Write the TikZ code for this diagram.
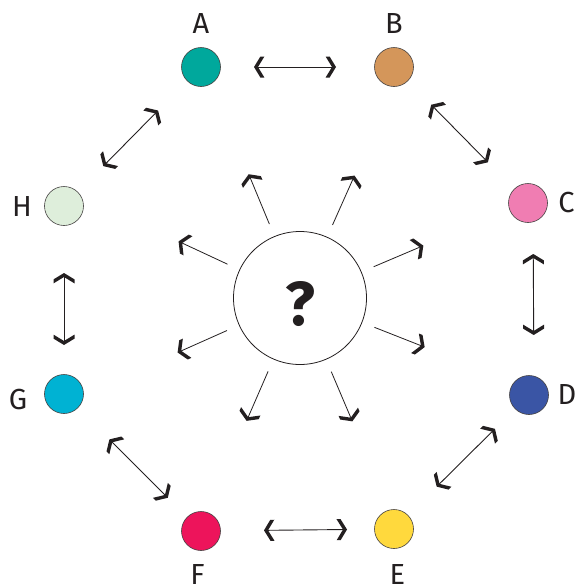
\documentclass[tikz,border=0pt]{standalone}
\usepackage{fontspec}
\setmainfont{Fira Sans}
\usetikzlibrary{calc,decorations.markings}
\definecolor{cA}{HTML}{00A89C}
\definecolor{cB}{HTML}{D4965A}
\definecolor{cC}{HTML}{F07DB2}
\definecolor{cD}{HTML}{3A55A5}
\definecolor{cE}{HTML}{FFD93D}
\definecolor{cF}{HTML}{ED145B}
\definecolor{cG}{HTML}{00B2D3}
\definecolor{cH}{HTML}{DEEEDB}
\definecolor{ink}{HTML}{231F20}
\begin{document}
\begin{tikzpicture}[x=1pt,y=-1pt,
  dot/.style={circle, draw=ink!85, line width=0.6pt, minimum size=39pt, inner sep=0pt},
  lbl/.style={font=\fontsize{29}{29}\selectfont, inner sep=0pt, text=ink},
  chevfill/.style={fill=ink, draw=none},
  link/.style={draw=ink, line width=0.9pt, shorten <=2pt, shorten >=2pt,
    postaction={decorate},
    decoration={markings,
      mark=at position 0 with {\path[chevfill] (0pt,0pt) -- (6.4pt,10.5pt) -- (10.4pt,10.5pt) -- (4pt,0pt) -- (10.4pt,-10.5pt) -- (6.4pt,-10.5pt) -- cycle;},
      mark=at position 1 with {\path[chevfill] (0pt,0pt) -- (-6.4pt,10.5pt) -- (-10.4pt,10.5pt) -- (-4pt,0pt) -- (-10.4pt,-10.5pt) -- (-6.4pt,-10.5pt) -- cycle;}}},
  ray/.style={draw=ink, line width=0.8pt, shorten >=2pt,
    postaction={decorate},
    decoration={markings,
      mark=at position 1 with {\path[chevfill] (0pt,0pt) -- (-6.4pt,10.5pt) -- (-10.4pt,10.5pt) -- (-4pt,0pt) -- (-10.4pt,-10.5pt) -- (-6.4pt,-10.5pt) -- cycle;}}},
  hub/.style={circle, draw=ink, line width=0.8pt, minimum size=133pt, inner sep=0pt},
  qmark/.style={font=\fontsize{62}{62}\selectfont\bfseries, inner sep=0pt, text=ink}
]
\useasboundingbox (0,0) rectangle (576,584);

% colored nodes
\node[dot, fill=cA] (A) at (201,67) {};
\node[dot, fill=cB] (B) at (394,67) {};
\node[dot, fill=cC] (C) at (528,203) {};
\node[dot, fill=cD] (D) at (529,395) {};
\node[dot, fill=cE] (E) at (394,529) {};
\node[dot, fill=cF] (F) at (201,531) {};
\node[dot, fill=cG] (G) at (64,394) {};
\node[dot, fill=cH] (H) at (64,206) {};

% labels
\node[lbl] (lA) at (201,23.5) {A};
\node[lbl] (lB) at (394,23.5) {B};
\node[lbl] (lC) at (566.5,203) {C};
\node[lbl] (lD) at (567,395) {D};
\node[lbl] (lE) at (397.5,575) {E};
\node[lbl] (lF) at (197.5,575) {F};
\node[lbl] (lG) at (18,400) {G};
\node[lbl] (lH) at (22,206.5) {H};

% links between neighbours
\draw[link] ($(A.center)!53pt!(B.center)$) -- ($(B.center)!58pt!(A.center)$);
\draw[link] ($(B.center)!53pt!(C.center)$) -- ($(C.center)!57pt!(B.center)$);
\draw[link] ($([xshift=5pt]C.center)!51pt!([xshift=5pt]D.center)$) -- ($([xshift=5pt]D.center)!60pt!([xshift=5pt]C.center)$);
\draw[link] ($(D.center)!48pt!(E.center)$) -- ($(E.center)!60pt!(D.center)$);
\draw[link] ($(E.center)!47pt!(F.center)$) -- ($(F.center)!63pt!(E.center)$);
\draw[link] ($(F.center)!47pt!(G.center)$) -- ($(G.center)!64pt!(F.center)$);
\draw[link] ($(G.center)!49pt!(H.center)$) -- ($(H.center)!67pt!(G.center)$);
\draw[link] ($(H.center)!56pt!(A.center)$) -- ($(A.center)!61pt!(H.center)$);

% hub
\node[hub] (Q) at (300,298) {};
\node[qmark] (q) at ([yshift=-6pt]Q.center) {?};

\foreach \a in {112.5,66,23,-21.5,-67,-113.5,-156,155}
  \draw[ray] ($(Q.center)+(\a:80pt)$) -- ($(Q.center)+(\a:134pt)$);
\end{tikzpicture}
\end{document}
